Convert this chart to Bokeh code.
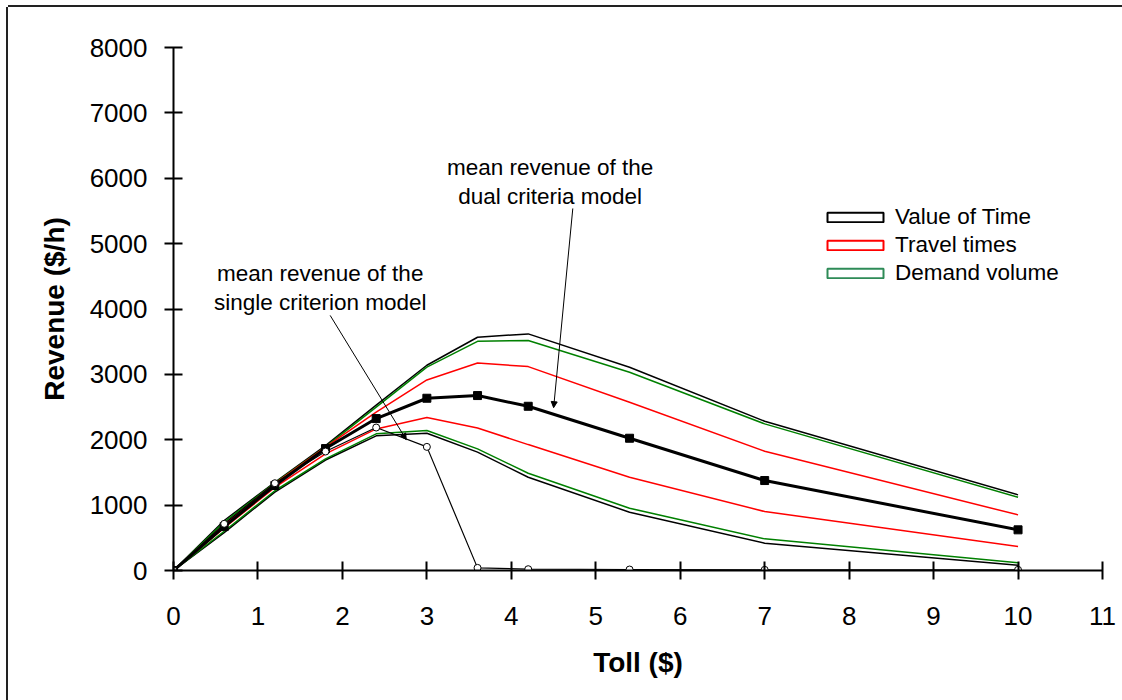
from bokeh.plotting import figure
from bokeh.models import (Range1d, FixedTicker, Legend, LegendItem, Label,
                          Arrow, NormalHead)
from bokeh.embed import file_html
from bokeh.resources import INLINE

# ---------------- data ----------------
toll = [0, 0.6, 1.2, 1.8, 2.4, 3.0, 3.6, 4.2, 5.4, 7.0, 10.0]

vot_upper = [0, 765, 1350, 1911, 2530, 3140, 3568, 3619, 3109, 2283, 1157]
vot_lower = [0, 580, 1200, 1690, 2060, 2100, 1810, 1427, 891, 418, 82]
demand_upper = [0, 740, 1340, 1890, 2500, 3110, 3506, 3517, 3032, 2243, 1121]
demand_lower = [0, 600, 1220, 1708, 2090, 2141, 1860, 1488, 953, 484, 118]
travel_upper = [0, 700, 1330, 1886, 2421, 2915, 3175, 3119, 2574, 1824, 851]
travel_lower = [0, 650, 1270, 1784, 2166, 2339, 2181, 1926, 1427, 902, 367]

dual_mean = [0, 672, 1300, 1865, 2324, 2635, 2676, 2512, 2023, 1376, 622]
single_mean = [0, 714, 1335, 1820, 2187, 1891, 40, 20, 15, 10, 10]

x_ticks = [0, 1, 2, 3, 4, 5, 6, 7, 8, 9, 10, 11]
y_ticks = [0, 1000, 2000, 3000, 4000, 5000, 6000, 7000, 8000]

legend_labels = ["Value of Time", "Travel times", "Demand volume"]
legend_colors = ["black", "red", "#2E8B57"]

dual_text = ["mean revenue of the", "dual criteria model"]
dual_text_x = [4.46, 4.46]
dual_text_y = [6165, 5722]
dual_arrow = [4.728, 5538, 4.501, 2491]

single_text = ["mean revenue of the", "single criterion model"]
single_text_x = [1.737, 1.737]
single_text_y = [4544, 4101]
single_arrow = [1.855, 3902, 2.756, 2002]

FONT = "Liberation Sans"
NAN = float("nan")

# ---------------- figure ----------------
p = figure(frame_width=929, frame_height=523,
           min_border_left=165, min_border_right=20,
           min_border_top=40, min_border_bottom=130,
           x_range=Range1d(0, 11), y_range=Range1d(0, 8000),
           output_backend="svg", toolbar_location=None)
p.styles = {"box-shadow": "0px -2px 0px 0px #222222, -2px 0px 0px 0px #222222",
            "margin-top": "7px", "margin-left": "8px"}
p.outline_line_color = None
p.border_fill_color = "white"
p.xgrid.visible = False
p.ygrid.visible = False
p.background_fill_color = "white"

for ax in (p.xaxis[0], p.yaxis[0]):
    ax.axis_line_width = 2
    ax.major_tick_line_width = 2
    ax.major_tick_in = 9
    ax.major_tick_out = 9
    ax.minor_tick_line_color = None
    ax.major_label_text_font = FONT
    ax.major_label_text_font_size = "26px"
    ax.major_label_text_color = "black"
    ax.axis_label_text_font = FONT
    ax.axis_label_text_font_size = "28px"
    ax.axis_label_text_font_style = "bold"
    ax.axis_label_text_color = "black"

p.xaxis.ticker = FixedTicker(ticks=x_ticks)
p.yaxis.ticker = FixedTicker(ticks=y_ticks)
p.xaxis.axis_label = "Toll ($)"
p.yaxis.axis_label = "Revenue ($/h)"
p.xaxis.major_label_standoff = 27
p.xaxis.axis_label_standoff = 19
p.yaxis.major_label_standoff = 17
p.yaxis.axis_label_standoff = 17

# envelope lines
p.line(toll, vot_upper, line_color="black", line_width=1.5)
p.line(toll, vot_lower, line_color="black", line_width=1.5)
p.line(toll, demand_upper, line_color="#008000", line_width=1.5)
p.line(toll, demand_lower, line_color="#008000", line_width=1.5)
p.line(toll, travel_upper, line_color="red", line_width=1.5)
p.line(toll, travel_lower, line_color="red", line_width=1.5)

# dual criteria mean
p.line(toll, dual_mean, line_color="black", line_width=3)
p.scatter(toll, dual_mean, marker="square", size=8, fill_color="black",
          line_color="black")

# single criterion mean
p.line(toll, single_mean, line_color="black", line_width=1.2)
p.scatter(toll, single_mean, marker="circle", size=7, fill_color="white",
          line_color="black", line_width=1)

# annotations
for t, x, y in zip(dual_text, dual_text_x, dual_text_y):
    p.add_layout(Label(x=x, y=y, text=t, text_align="center",
                       text_baseline="middle", text_font=FONT,
                       text_font_size="22.5px", text_color="black"))
for t, x, y in zip(single_text, single_text_x, single_text_y):
    p.add_layout(Label(x=x, y=y, text=t, text_align="center",
                       text_baseline="middle", text_font=FONT,
                       text_font_size="22.5px", text_color="black"))

p.add_layout(Arrow(end=NormalHead(size=6, fill_color="black", line_color="black"),
                   x_start=dual_arrow[0], y_start=dual_arrow[1],
                   x_end=dual_arrow[2], y_end=dual_arrow[3],
                   line_color="black", line_width=1))
p.add_layout(Arrow(end=NormalHead(size=6, fill_color="black", line_color="black"),
                   x_start=single_arrow[0], y_start=single_arrow[1],
                   x_end=single_arrow[2], y_end=single_arrow[3],
                   line_color="black", line_width=1))

# legend with rectangle swatches
items = []
for lab, col in zip(legend_labels, legend_colors):
    r = p.quad(left=[NAN], right=[NAN], top=[NAN], bottom=[NAN],
               fill_color="white", line_color=col, line_width=2)
    items.append(LegendItem(label=lab, renderers=[r]))

legend = Legend(items=items, location=(647, 283), padding=0, margin=0,
                spacing=0, glyph_width=70, glyph_height=12, label_height=28,
                label_standoff=5, border_line_color=None,
                background_fill_alpha=0, label_text_font=FONT,
                label_text_font_size="22.5px", label_text_color="black")
p.add_layout(legend, "center")

open("out.html", "w").write(file_html(p, INLINE))
